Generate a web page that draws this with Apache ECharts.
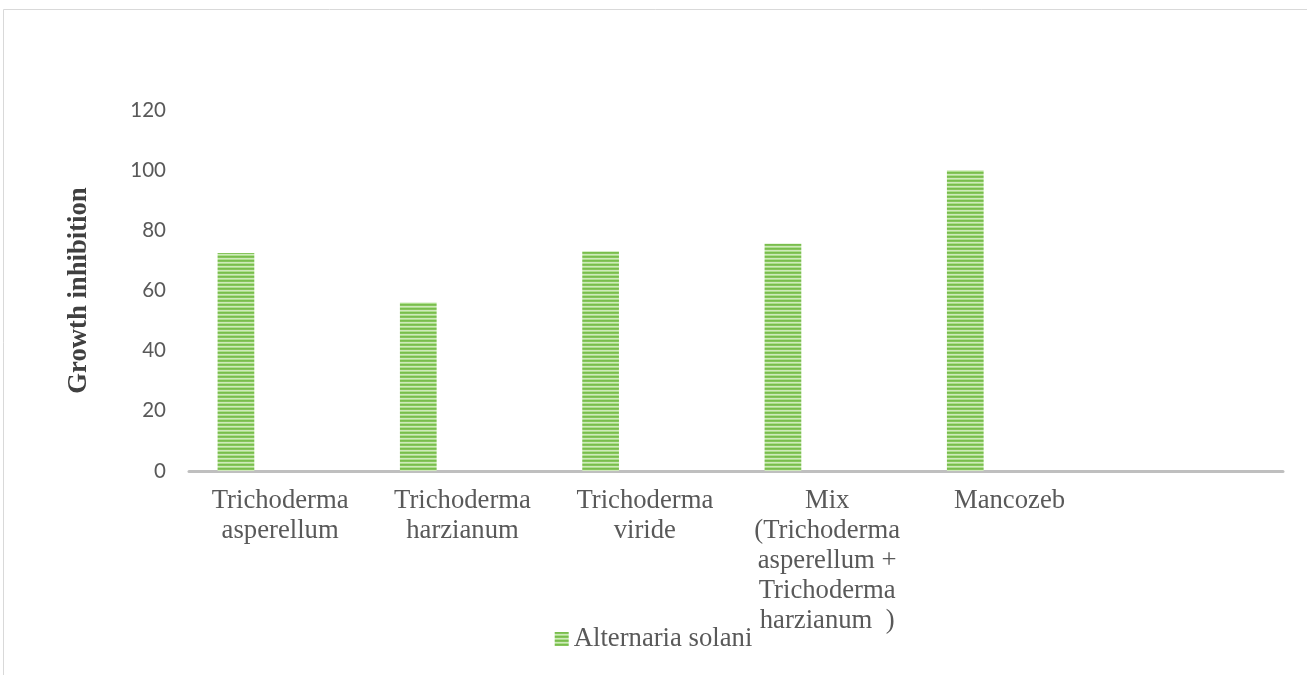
<!DOCTYPE html>
<html>
<head>
<meta charset="utf-8">
<style>
  html, body { margin: 0; padding: 0; background: #ffffff; }
  #chart { width: 1307px; height: 675px; }
</style>
<script src="https://cdn.jsdelivr.net/npm/echarts@6/dist/echarts.min.js"></script>
</head>
<body>
<div id="chart"></div>
<script>
// Treatments along the x axis (the last slot is left empty)
const categories = [
  'Trichoderma\nasperellum',
  'Trichoderma\nharzianum',
  'Trichoderma\nviride',
  'Mix\n(Trichoderma\nasperellum +\nTrichoderma\nharzianum  )',
  'Mancozeb',
  ''
];
// Growth inhibition of Alternaria solani (%)
const alternariaValues = [72.5, 56, 73, 75.5, 100, null];
const seriesName = 'Alternaria solani';
const yTicks = { min: 0, max: 120, step: 20 };

// Narrow horizontal stripe fill for the bars
function stripeFill() {
  const c = document.createElement('canvas');
  c.width = 4; c.height = 4;
  const g = c.getContext('2d');
  const rows = ['#79bd4d', '#86c55c', '#cfe9bc', '#ade08c'];
  rows.forEach((col, i) => { g.fillStyle = col; g.fillRect(0, i, 4, 1); });
  return { image: c, repeat: 'repeat' };
}
const fill = stripeFill();

const serif = "'Liberation Serif', 'Times New Roman', serif";
const chart = echarts.init(document.getElementById('chart'));
chart.setOption({
  animation: false,
  backgroundColor: '#ffffff',
  graphic: [{
    type: 'rect',
    shape: { x: 3.5, y: 9.5, width: 1400, height: 800 },
    style: { fill: 'none', stroke: '#d9d9d9', lineWidth: 1 },
    silent: true
  }],
  grid: { left: 189, right: 24, top: 110, bottom: 204, containLabel: false },
  legend: {
    data: [seriesName],
    top: 619,
    left: 'center',
    icon: 'rect',
    itemWidth: 14,
    itemHeight: 14,
    itemGap: 5,
    textStyle: { fontFamily: serif, fontSize: 26.7, color: '#595959', lineHeight: 30 }
  },
  xAxis: {
    type: 'category',
    data: categories,
    axisLine: { show: true, lineStyle: { color: '#bfbfbf', width: 3 } },
    axisTick: { show: false },
    axisLabel: {
      interval: 0,
      margin: 15,
      fontFamily: serif,
      fontSize: 26.7,
      lineHeight: 30,
      color: '#595959'
    }
  },
  yAxis: {
    type: 'value',
    min: yTicks.min,
    max: yTicks.max,
    interval: yTicks.step,
    axisLine: { show: false },
    axisTick: { show: false },
    splitLine: { show: false },
    axisLabel: { margin: 23, fontFamily: 'Lato, Open Sans, sans-serif', fontSize: 20.5, color: '#595959' },
    name: 'Growth inhibition',
    nameLocation: 'middle',
    nameRotate: 90,
    nameGap: 96,
    nameTextStyle: { fontFamily: serif, fontWeight: 'bold', fontSize: 26.7, color: '#404040' }
  },
  series: [
    {
      name: seriesName,
      type: 'bar',
      data: alternariaValues,
      barWidth: 36.7,
      barGap: '141%',
      itemStyle: { color: fill }
    },
    {
      name: 'spare',
      type: 'bar',
      data: [],
      barWidth: 36.7
    }
  ]
});
</script>
</body>
</html>
